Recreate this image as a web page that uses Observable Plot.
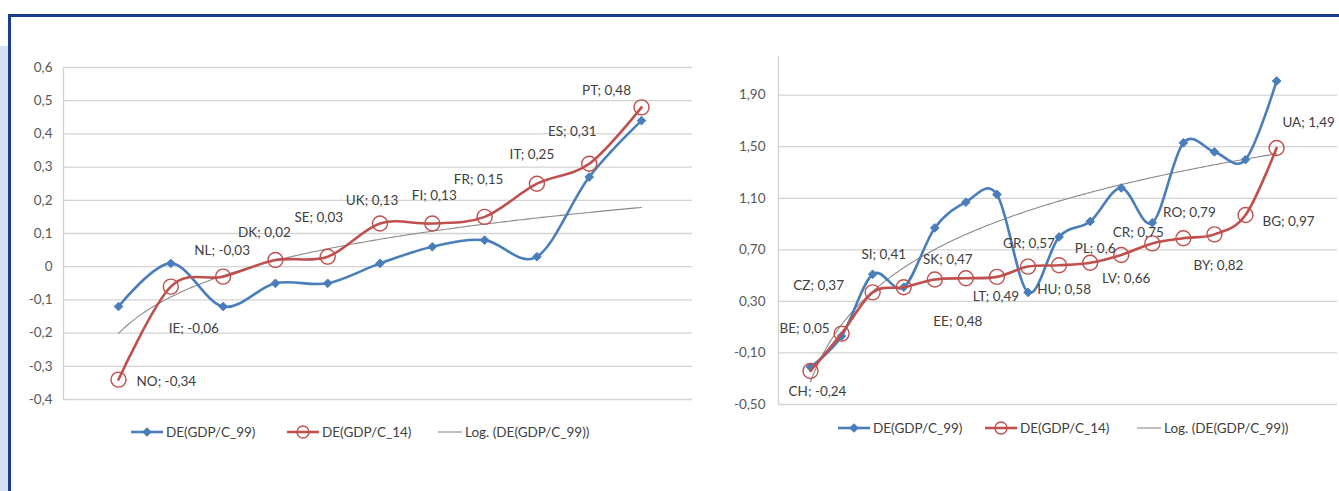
<!DOCTYPE html>
<html>
<head>
<meta charset="utf-8">
<script src="https://cdn.jsdelivr.net/npm/d3@7"></script>
<script src="https://cdn.jsdelivr.net/npm/@observablehq/plot@0.6"></script>
<style>
  body { margin: 0; background: #fff; font-family: Lato, "Open Sans", sans-serif; }
  #page { position: relative; width: 1339px; height: 491px; overflow: hidden; background: #fff; }
  #strip { position: absolute; left: 0; top: 46px; width: 8px; height: 445px; background: #d5e3f1; }
  #vbar { position: absolute; left: 8px; top: 14px; width: 3px; height: 477px; background: #1b3d8f; }
  #hbar { position: absolute; left: 8px; top: 14px; width: 1331px; height: 3px; background: #1b3d8f; }
  .chart { position: absolute; top: 0; }
  .item { position: absolute; display: flex; align-items: center; height: 16px; font-size: 13.5px; color: #404040; white-space: nowrap; }
  .item svg { display: block; }
</style>
</head>
<body>
<div id="page">
  <div id="strip"></div>
  <div id="vbar"></div>
  <div id="hbar"></div>
  <div id="left" class="chart" style="left:0px"></div>
  <div id="right" class="chart" style="left:700px"></div>
  <div id="legends"></div>
</div>
<script>
// ---------- data ----------
const leftCodes = ["NO", "IE", "NL", "DK", "SE", "UK", "FI", "FR", "IT", "ES", "PT"];
const leftGdp99 = [-0.12, 0.01, -0.12, -0.05, -0.05, 0.01, 0.06, 0.08, 0.03, 0.27, 0.44];
const leftGdp14 = [-0.34, -0.06, -0.03, 0.02, 0.03, 0.13, 0.13, 0.15, 0.25, 0.31, 0.48];
const leftTicks = [-0.4, -0.3, -0.2, -0.1, 0, 0.1, 0.2, 0.3, 0.4, 0.5, 0.6];

const rightCodes = ["CH", "BE", "CZ", "SI", "SK", "EE", "LT", "GR", "HU", "PL", "LV", "CR", "RO", "BY", "BG", "UA"];
const rightGdp99 = [-0.21, 0.03, 0.51, 0.41, 0.87, 1.07, 1.13, 0.37, 0.80, 0.92, 1.18, 0.91, 1.53, 1.46, 1.40, 2.01];
const rightGdp14 = [-0.24, 0.05, 0.37, 0.41, 0.47, 0.48, 0.49, 0.57, 0.58, 0.6, 0.66, 0.75, 0.79, 0.82, 0.97, 1.49];
const rightTicks = [-0.5, -0.1, 0.3, 0.7, 1.1, 1.5, 1.9];

const seriesNames = ["DE(GDP/C_99)", "DE(GDP/C_14)", "Log. (DE(GDP/C_99))"];

// ---------- styling (label placement, colours) ----------
const BLUE = "#4a7ebb", RED = "#c0504d", GREY = "#8a8a8a", GRID = "#d3d3d3", TXT = "#404040";
const FONT = "Lato, 'Open Sans', sans-serif";
const leftLabelOffsets = {
  NO: [18, 2, "start"], IE: [23, 42], NL: [-1, -26], DK: [-11, -27], SE: [-9, -39],
  UK: [-8, -23], FI: [2, -28], FR: [-6, -37], IT: [-5, -29], ES: [-17, -32], PT: [-35, -17]
};
const rightLabelOffsets = {
  CH: [7, 21], BE: [-37, -5], CZ: [-54, -7], SI: [-20, -33], SK: [13, -20], EE: [-8, 43],
  LT: [-1, 20], GR: [1, -23], HU: [5, 24], PL: [5, -14], LV: [5, 24], CR: [-14, -11],
  RO: [6, -26], BY: [4, 31], BG: [43, 7], UA: [32, -25]
};

function comma(v) { return String(v).replace(".", ","); }

function logFit(vals) {
  const xs = vals.map((_, i) => Math.log(i + 1));
  const mx = d3.mean(xs), my = d3.mean(vals);
  let sxy = 0, sxx = 0;
  xs.forEach((x, i) => { sxy += (x - mx) * (vals[i] - my); sxx += (x - mx) ** 2; });
  const b = sxy / sxx;
  return { a: my - b * mx, b };
}

function chart(o) {
  const rows = o.codes.map((c, i) => ({ i, code: c, a: o.v99[i], b: o.v14[i] }));
  const n = rows.length;
  const fit = logFit(o.v99);
  const trend = d3.range(0, n - 1, 0.05).concat([n - 1]).map(x => ({ x, y: fit.a + fit.b * Math.log(x + 1) }));
  const labels = rows.map(d => {
    const off = o.offsets[d.code] || [0, -20];
    return Plot.text([d], {
      x: "i", y: "b", text: r => `${r.code}; ${comma(r.b)}`,
      dx: off[0], dy: off[1], textAnchor: off[2] || "middle",
      fill: TXT, fontSize: 13.5, fontFamily: FONT
    });
  });
  return Plot.plot({
    width: o.width, height: o.height,
    marginLeft: o.mL, marginRight: o.mR, marginTop: o.mT, marginBottom: o.mB,
    style: { fontFamily: FONT, fontSize: "13.5px", color: "#595959", background: "transparent", overflow: "visible" },
    x: { domain: o.xDomain, axis: null },
    y: { domain: o.yDomain, axis: null },
    marks: [
      Plot.ruleY(o.ticks, { stroke: GRID, strokeWidth: 1.3 }),
      Plot.ruleX([o.xDomain[0]], { y1: o.yDomain[0], y2: o.yDomain[1], stroke: GRID, strokeWidth: 1.3 }),
      Plot.axisY({ ticks: o.ticks, tickFormat: o.tickFormat, tickSize: 0, tickPadding: o.pad, label: null, fill: "#595959", fontSize: 13.5 }),
      Plot.line(trend, { x: "x", y: "y", stroke: GREY, strokeWidth: 1.1 }),
      Plot.line(rows, { x: "i", y: "a", stroke: BLUE, strokeWidth: 2.6, curve: "cardinal" }),
      Plot.dot(rows, { x: "i", y: "a", symbol: "diamond2", r: 3.9, fill: BLUE, stroke: BLUE, strokeWidth: 1 }),
      Plot.line(rows, { x: "i", y: "b", stroke: RED, strokeWidth: 2.6, curve: "cardinal" }),
      Plot.dot(rows, { x: "i", y: "b", r: 7.5, fill: "none", stroke: RED, strokeWidth: 1.4 }),
      ...labels
    ]
  });
}

document.getElementById("left").appendChild(chart({
  codes: leftCodes, v99: leftGdp99, v14: leftGdp14, ticks: leftTicks,
  tickFormat: v => v === 0 ? "0" : comma(v),
  width: 700, height: 420, mL: 63, mR: 8, mT: 67, mB: 21, pad: 11,
  xDomain: [-1.052, 10.975], yDomain: [-0.4, 0.6], offsets: leftLabelOffsets
}));

document.getElementById("right").appendChild(chart({
  codes: rightCodes, v99: rightGdp99, v14: rightGdp14, ticks: rightTicks,
  tickFormat: v => v.toFixed(2).replace(".", ","),
  width: 639, height: 420, mL: 78, mR: 2, mT: 56, mB: 16, pad: 13,
  xDomain: [-1.03, 16.96], yDomain: [-0.5, 2.2], offsets: rightLabelOffsets
}));

// ---------- legends ----------
function swatch(kind) {
  const w = kind === "trend" ? 24 : 32;
  let s = `<svg width="${w}" height="16">`;
  if (kind === "a") {
    s += `<line x1="0" y1="8" x2="${w}" y2="8" stroke="${BLUE}" stroke-width="2.6"/>`;
    s += `<path d="M16 3.2 L20.8 8 L16 12.8 L11.2 8Z" fill="${BLUE}"/>`;
  } else if (kind === "b") {
    s += `<line x1="0" y1="8" x2="${w}" y2="8" stroke="${RED}" stroke-width="2.6"/>`;
    s += `<circle cx="16" cy="8" r="6" fill="none" stroke="${RED}" stroke-width="1.3"/>`;
  } else {
    s += `<line x1="0" y1="8" x2="${w}" y2="8" stroke="${GREY}" stroke-width="1.1"/>`;
  }
  return s + `</svg>`;
}
const legendSpecs = [
  { top: 424, xs: [131, 287, 438] },
  { top: 420, xs: [838, 985, 1137] }
];
const kinds = ["a", "b", "trend"];
const legends = document.getElementById("legends");
legendSpecs.forEach(spec => {
  spec.xs.forEach((x, k) => {
    const div = document.createElement("div");
    div.className = "item";
    div.style.left = x + "px";
    div.style.top = spec.top + "px";
    div.innerHTML = swatch(kinds[k]) + `<span style="margin-left:3px">${seriesNames[k]}</span>`;
    legends.appendChild(div);
  });
});
</script>
</body>
</html>
